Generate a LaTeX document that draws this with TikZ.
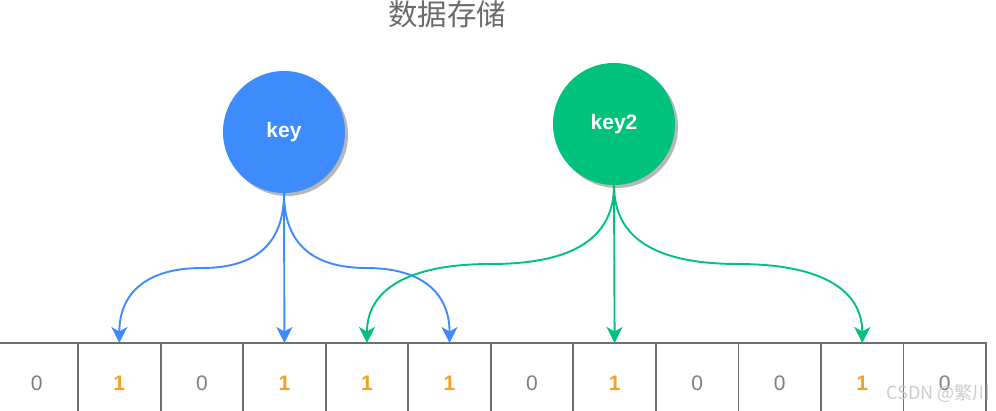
\documentclass[tikz,border=0pt]{standalone}
\usepackage{fontspec}
\setmainfont{Liberation Sans}
\newfontfamily\cjk{Noto Sans CJK SC}
\usetikzlibrary{arrows.meta,calc}
\definecolor{kblue}{HTML}{3D8BFD}
\definecolor{kgreen}{HTML}{00C27C}
\definecolor{gridc}{HTML}{6E6E6E}
\definecolor{zeroc}{HTML}{7F7F7F}
\definecolor{onec}{HTML}{F5A020}
\definecolor{titlec}{HTML}{6B6B6B}
\tikzset{
  cell/.style={draw=gridc, line width=1.8pt, minimum width=82.55pt, minimum height=80pt, outer sep=0pt, inner sep=0pt, font=\fontsize{21}{25}\selectfont},
  zero/.style={cell, text=zeroc},
  one/.style={cell, text=onec, font=\fontsize{21}{25}\selectfont\bfseries},
  keynode/.style={circle, minimum size=122pt, inner sep=0pt, outer sep=0pt, text=white, font=\fontsize{21}{25}\selectfont\bfseries},
  shade/.style={circle, minimum size=122pt, inner sep=0pt, fill=black!35, opacity=0.8},
  arr/.style={line width=1.9pt, -{Stealth[length=16pt,width=16pt,inset=4.5pt]}},
}
\begin{document}
\begin{tikzpicture}[x=1pt,y=-1pt]
\useasboundingbox (0,0) rectangle (996,410);
\clip (0,0) rectangle (996,410);
\fill[white] (0,0) rectangle (996,410);
% title
\node[text=titlec, font=\cjk\fontsize{29.5}{33}\selectfont] (title) at (447,14) {数据存储};
% cells
\foreach \i/\s/\t in {1/zero/0,2/one/1,3/zero/0,4/one/1,5/one/1,6/one/1,7/zero/0,8/one/1,9/zero/0,10/zero/0,11/one/1,12/zero/0}{
  \node[\s] (c\i) at ({-4.5+82.55*(\i-0.5)},383) {\t};
}
% shadows and keys
\node[shade] (keysh) at (287,135) {};
\node[shade] (key2sh) at (617,127) {};
\node[keynode, fill=kblue] (key) at (284,132) {key};
\node[keynode, fill=kgreen] (key2) at (614,124) {key2};
% blue connectors
\coordinate (m1) at ($(key.south)!0.5!(c2.north)$);
\coordinate (m2) at ($(key.south)!0.5!(c6.north)$);
\draw[arr, kblue] (key.south) .. controls +(0,50) and +(55,0) .. (m1) .. controls +(-55,0) and +(0,-50) .. (c2.north);
\draw[arr, kblue] (key.south) -- (c4.north);
\draw[arr, kblue] (key.south) .. controls +(0,50) and +(-55,0) .. (m2) .. controls +(55,0) and +(0,-50) .. (c6.north);
% green connectors
\coordinate (m3) at ($(key2.south)!0.5!(c5.north)$);
\coordinate (m4) at ($(key2.south)!0.5!(c11.north)$);
\draw[arr, kgreen] (key2.south) .. controls +(0,53) and +(83,0) .. (m3) .. controls +(-83,0) and +(0,-53) .. (c5.north);
\draw[arr, kgreen] (key2.south) -- (c8.north);
\draw[arr, kgreen] (key2.south) .. controls +(0,53) and +(-83,0) .. (m4) .. controls +(83,0) and +(0,-53) .. (c11.north);
% watermark
\node[anchor=east, text=black!22, opacity=0.9, font=\cjk\fontsize{18}{20}\selectfont, inner sep=0pt] (wm) at (991,393) {CSDN @繁川};
\end{tikzpicture}
\end{document}
